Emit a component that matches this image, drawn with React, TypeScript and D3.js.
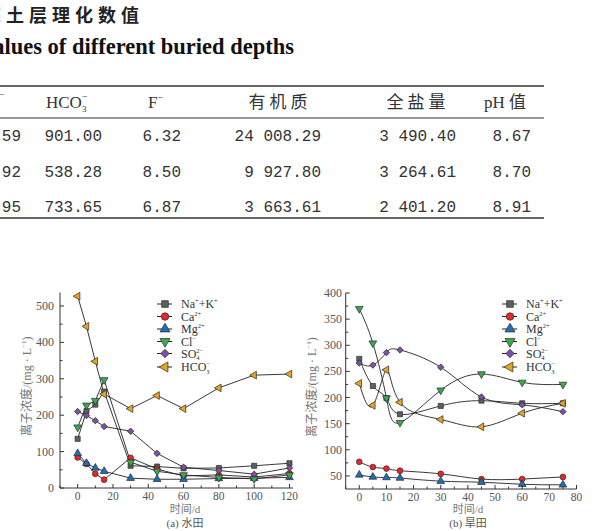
import React from 'react';
import * as d3 from 'd3';

const W = 603;
const H = 531;

const SERIF = "'Liberation Serif', 'Times New Roman', serif";
const CJK = "'Noto Sans CJK SC', 'Noto Sans', sans-serif";
const MONO = "'Liberation Mono', 'DejaVu Sans Mono', monospace";

// ---- table excerpt (right-hand columns) ----
const prevColumn = ['59', '92', '95'];
const hco3Column = ['901.00', '538.28', '733.65'];
const fColumn = ['6.32', '8.50', '6.87'];
const organicColumn = ['24 008.29', '9 927.80', '3 663.61'];
const saltColumn = ['3 490.40', '3 264.61', '2 401.20'];
const phColumn = ['8.67', '8.70', '8.91'];

// ---- (a) paddy field, days ----
const daysPaddy = [0, 5, 10, 15, 30, 45, 60, 80, 100, 120];
const naKPaddy = [135, 211, 229, 265, 61, 59, 54, 55, 61, 68];
const caPaddy = [84, 66, 39, 23, 83, 52, 33, 36, 30, 40];
const mgPaddy = [95, 68, 55, 46, 27, 24, 24, 26, 27, 29];
const clPaddy = [167, 227, 240, 297, 71, 46, 36, 29, 25, 36];
const so4Paddy = [210, 199, 185, 169, 156, 95, 57, 48, 38, 55];
const hco3Paddy = [527, 444, 348, 258, 218, 254, 218, 275, 310, 313];

// ---- (b) dry field, days ----
const daysDry = [0, 5, 10, 15, 30, 45, 60, 75];
const naKDry = [274, 222, 199, 168, 184, 194, 189, 189];
const caDry = [77, 67, 64, 60, 54, 44, 44, 48];
const mgDry = [52, 48, 47, 46, 40, 38, 34, 33];
const clDry = [370, 304, 199, 152, 214, 245, 229, 225];
const so4Dry = [266, 262, 286, 291, 258, 201, 186, 173];
const hco3Dry = [227, 185, 253, 191, 158, 144, 170, 189];

// ---- axis ticks ----
const paddyXTicks = [0, 20, 40, 60, 80, 100, 120];
const paddyXMinor = [-10, 10, 30, 50, 70, 90, 110];
const paddyYTicks = [0, 100, 200, 300, 400, 500];
const paddyYMinor = [50, 150, 250, 350, 450];
const dryXTicks = [0, 10, 20, 30, 40, 50, 60, 70, 80];
const dryXMinor = [-5, 5, 15, 25, 35, 45, 55, 65, 75];
const dryYTicks = [50, 100, 150, 200, 250, 300, 350, 400];
const dryYMinor = [75, 125, 175, 225, 275, 325, 375];

type Ion = 'naK' | 'ca' | 'mg' | 'cl' | 'so4' | 'hco3';
const ionOrder: Ion[] = ['naK', 'ca', 'mg', 'cl', 'so4', 'hco3'];

const ionColor: Record<Ion, string> = {
  naK: '#5b6163',
  ca: '#e8262b',
  mg: '#1d6fb6',
  cl: '#3aab4a',
  so4: '#7c50a8',
  hco3: '#e8a323',
};

const paddySeries: Record<Ion, number[]> = {
  naK: naKPaddy, ca: caPaddy, mg: mgPaddy, cl: clPaddy, so4: so4Paddy, hco3: hco3Paddy,
};
const drySeries: Record<Ion, number[]> = {
  naK: naKDry, ca: caDry, mg: mgDry, cl: clDry, so4: so4Dry, hco3: hco3Dry,
};

function markerPath(ion: Ion, size: number): { d: string; rot: number } {
  switch (ion) {
    case 'naK':
      return { d: d3.symbol().type(d3.symbolSquare).size(size)()!, rot: 0 };
    case 'ca':
      return { d: d3.symbol().type(d3.symbolCircle).size(size)()!, rot: 0 };
    case 'mg':
      return { d: d3.symbol().type(d3.symbolTriangle).size(size)()!, rot: 0 };
    case 'cl':
      return { d: d3.symbol().type(d3.symbolTriangle).size(size)()!, rot: 180 };
    case 'so4':
      return { d: d3.symbol().type(d3.symbolSquare).size(size * 0.8)()!, rot: 45 };
    default:
      return { d: d3.symbol().type(d3.symbolTriangle).size(size)()!, rot: -90 };
  }
}

function Marker({ ion, x, y, size }: { ion: Ion; x: number; y: number; size: number }) {
  const m = markerPath(ion, size);
  return (
    <path
      d={m.d}
      transform={`translate(${x},${y}) rotate(${m.rot})`}
      fill={ionColor[ion]}
      stroke="#2a2a2a"
      strokeWidth={0.7}
    />
  );
}

function IonLabel({ ion, x, y }: { ion: Ion; x: number; y: number }) {
  const common = { fontFamily: SERIF, fontSize: 12, fill: '#333' };
  const small = 6.5;
  if (ion === 'naK')
    return (
      <text x={x} y={y} {...common}>
        Na<tspan fontSize={small} dy={-5}>+</tspan>
        <tspan dy={5}>+K</tspan>
        <tspan fontSize={small} dy={-5}>+</tspan>
      </text>
    );
  if (ion === 'ca' || ion === 'mg')
    return (
      <text x={x} y={y} {...common}>
        {ion === 'ca' ? 'Ca' : 'Mg'}
        <tspan fontSize={small} dy={-5}>2+</tspan>
      </text>
    );
  if (ion === 'cl')
    return (
      <text x={x} y={y} {...common}>
        Cl<tspan fontSize={small} dy={-5}>−</tspan>
      </text>
    );
  if (ion === 'so4')
    return (
      <text x={x} y={y} {...common}>
        SO<tspan fontSize={small} dy={2.5}>4</tspan>
        <tspan fontSize={small} dx={-3.3} dy={-7.5}>2−</tspan>
      </text>
    );
  return (
    <text x={x} y={y} {...common}>
      HCO<tspan fontSize={small} dy={2.5}>3</tspan>
      <tspan fontSize={small} dx={-3.3} dy={-7.5}>−</tspan>
    </text>
  );
}

type PanelProps = {
  days: number[];
  series: Record<Ion, number[]>;
  xScale: d3.ScaleLinear<number, number>;
  yScale: d3.ScaleLinear<number, number>;
  xTicks: number[];
  xMinor: number[];
  yTicks: number[];
  yMinor: number[];
  curve: d3.CurveFactory;
  legendX: number;
  yLabelX: number;
  yTickEnd: number;
  titleX: number;
  panelLetter: string;
  fieldName: string;
};

function Panel(p: PanelProps) {
  const [x0, x1] = p.xScale.range();
  const [y0, y1] = p.yScale.range();
  const line = d3
    .line<number>()
    .x((_, i) => p.xScale(p.days[i]))
    .y((v) => p.yScale(v))
    .curve(p.curve);
  const legendRows = [304, 316.5, 329, 341.5, 353.5, 367];
  const yMid = (y0 + y1) / 2 - 4;

  return (
    <g>
      {/* series lines */}
      {ionOrder.map((ion) => (
        <path key={ion} d={line(p.series[ion])!} fill="none" stroke="#222" strokeWidth={0.9} />
      ))}
      {/* markers */}
      {ionOrder.map((ion) =>
        p.series[ion].map((v, i) => (
          <Marker key={`${ion}-${i}`} ion={ion} x={p.xScale(p.days[i])} y={p.yScale(v)} size={26} />
        ))
      )}

      {/* axes */}
      <line x1={x0} x2={x1} y1={y0} y2={y0} stroke="#333" strokeWidth={1} />
      <line x1={x0} x2={x0} y1={y0} y2={y1} stroke="#333" strokeWidth={1} />
      {p.xTicks.map((t) => (
        <g key={`xt${t}`}>
          <line x1={p.xScale(t)} x2={p.xScale(t)} y1={y0} y2={y0 - 4} stroke="#333" />
          <text x={p.xScale(t)} y={y0 + 12} textAnchor="middle" fontFamily={SERIF} fontSize={11.5} fill="#555">
            {t}
          </text>
        </g>
      ))}
      {p.xMinor.map((t) => (
        <line key={`xm${t}`} x1={p.xScale(t)} x2={p.xScale(t)} y1={y0} y2={y0 - 2.5} stroke="#333" />
      ))}
      {p.yTicks.map((t) => (
        <g key={`yt${t}`}>
          <line x1={x0} x2={x0 + 4} y1={p.yScale(t)} y2={p.yScale(t)} stroke="#333" />
          <text x={p.yTickEnd} y={p.yScale(t) + 4} textAnchor="end" fontFamily={SERIF} fontSize={12} fill="#555">
            {t}
          </text>
        </g>
      ))}
      {p.yMinor.map((t) => (
        <line key={`ym${t}`} x1={x0} x2={x0 + 2.5} y1={p.yScale(t)} y2={p.yScale(t)} stroke="#333" />
      ))}

      {/* y-axis title */}
      <text
        transform={`translate(${p.yLabelX},${yMid}) rotate(-90)`}
        textAnchor="middle"
        fontSize={12}
        fill="#777"
      >
        <tspan fontFamily={CJK}>离子浓度</tspan>
        <tspan fontFamily={SERIF}>/(mg · L</tspan>
        <tspan fontFamily={SERIF} fontSize={7} dy={-5}>−1</tspan>
        <tspan fontFamily={SERIF} dy={5}>)</tspan>
      </text>

      {/* x-axis title and panel caption */}
      <text x={p.titleX} y={513} textAnchor="middle" fontSize={11} fill="#777">
        <tspan fontFamily={CJK}>时间</tspan>
        <tspan fontFamily={SERIF}>/d</tspan>
      </text>
      <text x={p.titleX} y={526.5} textAnchor="middle" fontSize={11} fill="#555">
        <tspan fontFamily={SERIF}>({p.panelLetter}) </tspan>
        <tspan fontFamily={CJK}>{p.fieldName}</tspan>
      </text>

      {/* legend */}
      {ionOrder.map((ion, i) => (
        <g key={`lg-${ion}`}>
          <line x1={p.legendX} x2={p.legendX + 15} y1={legendRows[i]} y2={legendRows[i]} stroke="#222" strokeWidth={1} />
          <Marker ion={ion} x={p.legendX + 8} y={legendRows[i]} size={44} />
          <IonLabel ion={ion} x={p.legendX + 24} y={legendRows[i] + 4} />
        </g>
      ))}
    </g>
  );
}

function TableExcerpt() {
  const rowY = [135, 171, 206];
  const mono = { fontFamily: MONO, fontSize: 16, fill: '#333', textAnchor: 'end' as const };
  return (
    <g>
      <text x={-17} y={22} fontFamily={CJK} fontWeight={700} fontSize={18} letterSpacing={5} fill="#222">
        深土层理化数值
      </text>
      <text x={294} y={54} textAnchor="end" fontFamily={SERIF} fontWeight={700} fontSize={22.5} fill="#111">
        Physicochemical values of different buried depths
      </text>

      <line x1={0} x2={544} y1={86} y2={86} stroke="#333" strokeWidth={1.6} />
      <line x1={0} x2={544} y1={118} y2={118} stroke="#333" strokeWidth={1} />
      <line x1={0} x2={544} y1={218} y2={218} stroke="#333" strokeWidth={1.6} />

      {/* header */}
      <text x={-1} y={98} fontFamily={SERIF} fontSize={10} fill="#444">−</text>
      <text x={46} y={108} fontFamily={SERIF} fontSize={17} fill="#333">
        HCO<tspan fontSize={9} dy={4}>3</tspan>
        <tspan fontSize={10} dx={-4.5} dy={-12}>−</tspan>
      </text>
      <text x={148} y={108} fontFamily={SERIF} fontSize={17} fill="#333">
        F<tspan fontSize={10} dy={-7}>−</tspan>
      </text>
      <text x={280} y={108} textAnchor="middle" fontFamily={CJK} fontSize={17} letterSpacing={4} fill="#333">
        有机质
      </text>
      <text x={418} y={108} textAnchor="middle" fontFamily={CJK} fontSize={17} letterSpacing={4} fill="#333">
        全盐量
      </text>
      <text x={484} y={108} fontSize={17} fill="#333">
        <tspan fontFamily={SERIF}>pH </tspan>
        <tspan fontFamily={CJK}>值</tspan>
      </text>

      {rowY.map((y, i) => (
        <g key={`row${i}`}>
          <text x={21} y={y + 5.5} {...mono}>{prevColumn[i]}</text>
          <text x={102} y={y + 5.5} {...mono}>{hco3Column[i]}</text>
          <text x={181} y={y + 5.5} {...mono}>{fColumn[i]}</text>
          <text x={321} y={y + 5.5} {...mono}>{organicColumn[i]}</text>
          <text x={456} y={y + 5.5} {...mono}>{saltColumn[i]}</text>
          <text x={531} y={y + 5.5} {...mono}>{phColumn[i]}</text>
        </g>
      ))}
    </g>
  );
}

export default function App() {
  const xPaddy = d3.scaleLinear().domain([-10, 122]).range([60, 293]);
  const yPaddy = d3.scaleLinear().domain([0, 537]).range([488, 292.5]);
  const xDry = d3.scaleLinear().domain([-5, 80]).range([345.7, 576.5]);
  const yDry = d3.scaleLinear().domain([25, 400]).range([489, 293]);

  return (
    <svg
      width={W}
      height={H}
      viewBox={`0 0 ${W} ${H}`}
      style={{ position: 'absolute', left: 0, top: 0, background: '#fff' }}
    >
      <rect width={W} height={H} fill="#fff" />
      <TableExcerpt />
      <Panel
        days={daysPaddy}
        series={paddySeries}
        xScale={xPaddy}
        yScale={yPaddy}
        xTicks={paddyXTicks}
        xMinor={paddyXMinor}
        yTicks={paddyYTicks}
        yMinor={paddyYMinor}
        curve={d3.curveLinear}
        legendX={157}
        yLabelX={31}
        yTickEnd={54}
        titleX={185}
        panelLetter="a"
        fieldName="水田"
      />
      <Panel
        days={daysDry}
        series={drySeries}
        xScale={xDry}
        yScale={yDry}
        xTicks={dryXTicks}
        xMinor={dryXMinor}
        yTicks={dryYTicks}
        yMinor={dryYMinor}
        curve={d3.curveNatural}
        legendX={502}
        yLabelX={316}
        yTickEnd={342}
        titleX={468}
        panelLetter="b"
        fieldName="旱田"
      />
    </svg>
  );
}
